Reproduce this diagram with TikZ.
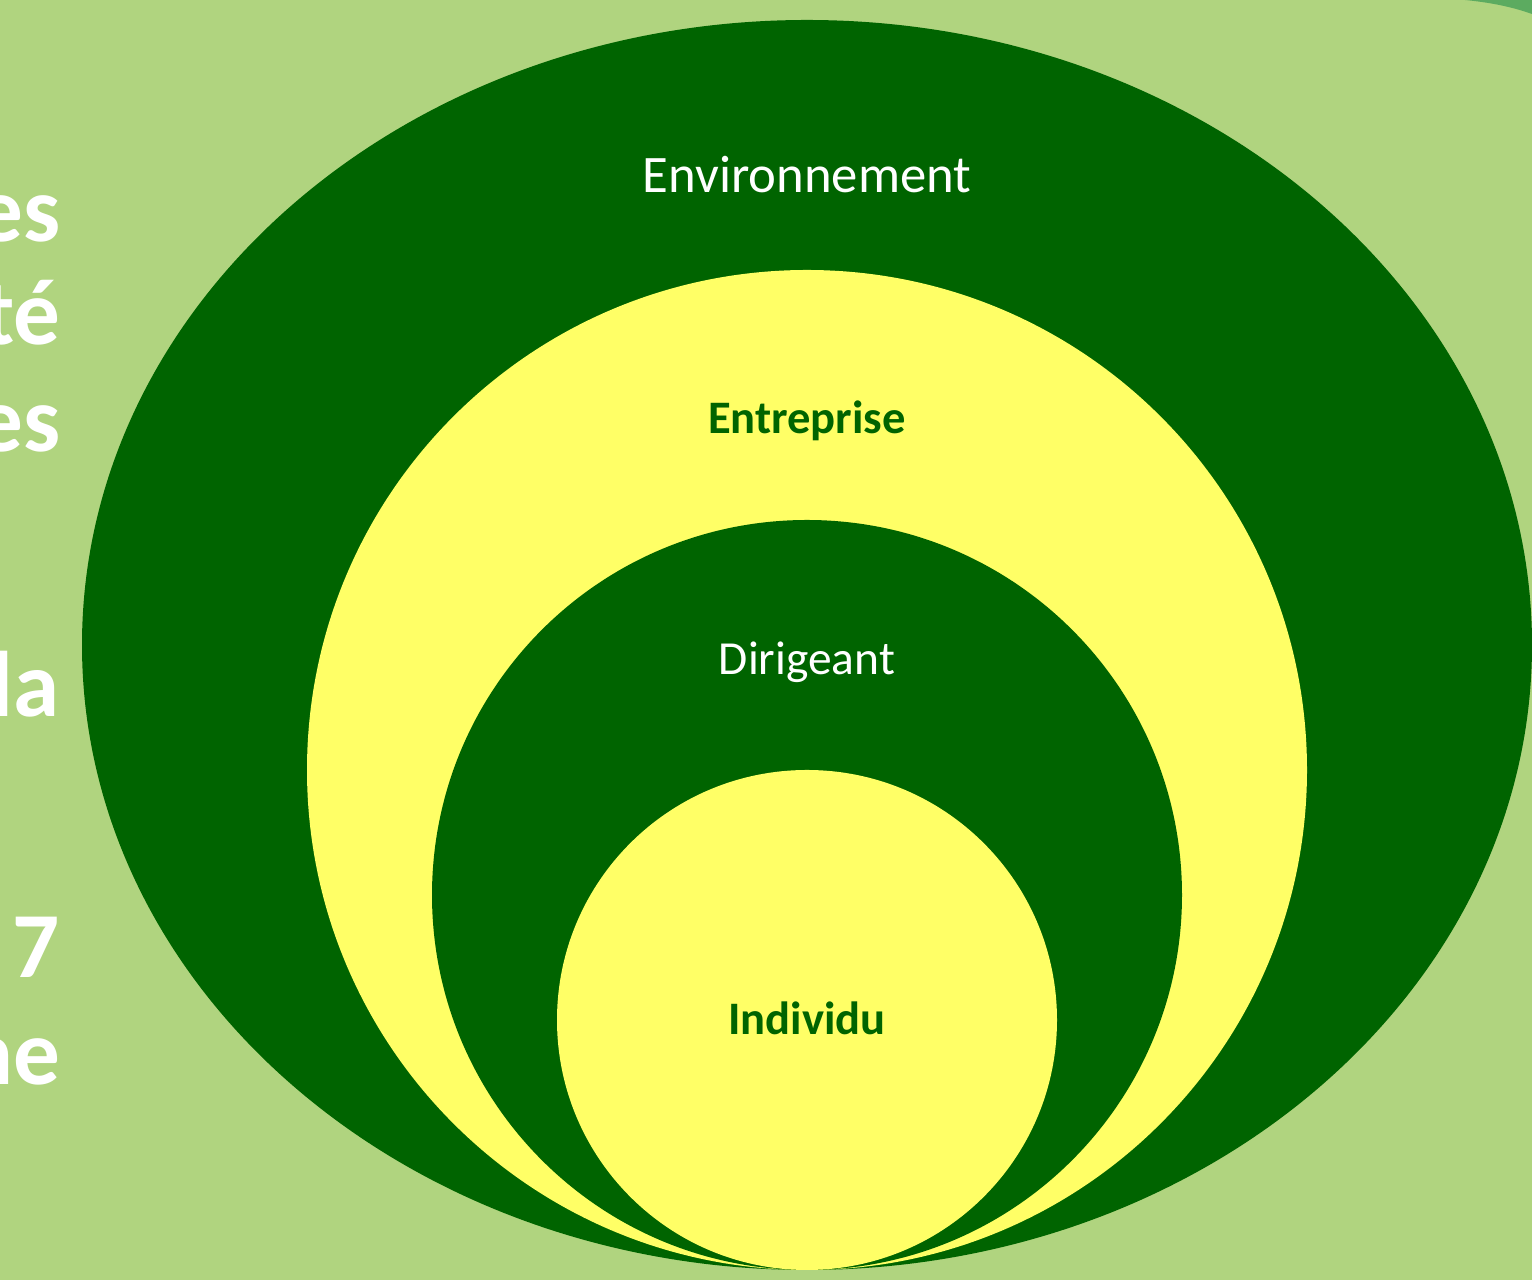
\documentclass[tikz,border=0pt]{standalone}
\usepackage{fontspec}
\setmainfont{Carlito}
\definecolor{paleleaf}{HTML}{B0D47F}
\definecolor{darkleaf}{HTML}{006400}
\definecolor{lemon}{HTML}{FFFF66}
\definecolor{cornerleaf}{HTML}{5CAB60}
\begin{document}
\begin{tikzpicture}[x=0.02cm, y=0.02cm,
    lighttext/.style={text=white, font=\fontsize{27}{32}\selectfont},
    boldtext/.style={text=darkleaf, font=\bfseries\fontsize{26.5}{32}\selectfont},
    cuttext/.style={anchor=base east, text=white, inner sep=0pt, font=\bfseries\fontsize{53}{60}\selectfont}]
    \useasboundingbox (0,0) rectangle (1532,1280);
    \clip (0,0) rectangle (1532,1280);
    \fill [paleleaf] (0,0) rectangle (1532,1280);
    \fill [cornerleaf] (1465,1280) .. controls (1495,1277) and (1515,1272) .. (1532,1266) -- (1532,1280) -- cycle;
    % text cut off at the left
    \node [cuttext] (frag1) at (61,1038) {es};
    \node [cuttext] (frag2) at (61,935) {té};
    \node [cuttext] (frag3) at (61,828) {es};
    \node [cuttext] (frag4) at (60,563) {la};
    \node [cuttext] (frag5) at (60,302) {7};
    \node [cuttext] (frag6) at (61,195) {ne};
    % nested rings
    \fill [darkleaf] (807,635) ellipse [x radius=725, y radius=625];
    \fill [lemon] (807,510) circle [radius=500];
    \fill [darkleaf] (807,385) circle [radius=375];
    \fill [lemon] (807,260) circle [radius=250];
    \node [lighttext, font=\fontsize{30}{36}\selectfont] (env) at (807,1105) {Environnement};
    \node [boldtext] (ent) at (807,859) {Entreprise};
    \node [lighttext] (dir) at (807,618) {Dirigeant};
    \node [boldtext] (ind) at (807,262) {Individu};
\end{tikzpicture}
\end{document}
